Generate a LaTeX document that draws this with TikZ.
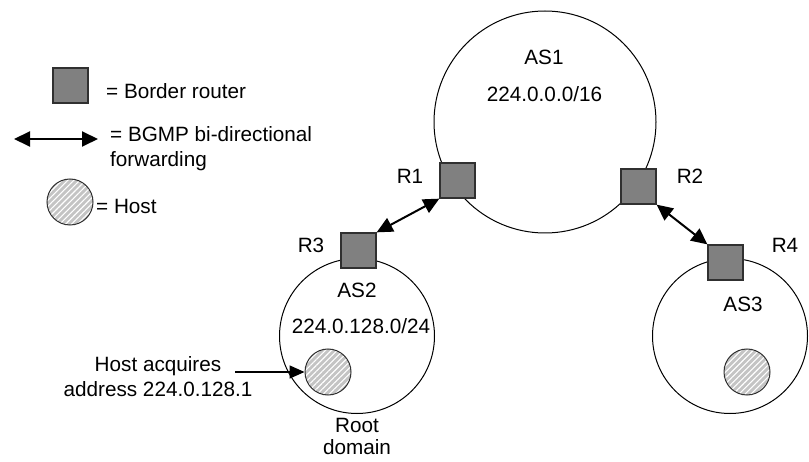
\documentclass[tikz,border=0pt]{standalone}
\usepackage{fontspec}
\setmainfont{Liberation Sans}
\usepackage{tikz}
\usetikzlibrary{positioning, arrows.meta, calc, patterns.meta}
\definecolor{routergray}{HTML}{808080}
\definecolor{hostgray}{HTML}{C4C4C4}
\definecolor{edgegray}{HTML}{303030}

\tikzset{
  ascircle/.style={draw, circle, line width=1pt, inner sep=0pt},
  router/.style={draw=edgegray, fill=routergray, line width=1.3pt,
                 minimum size=35pt, inner sep=0pt},
  host/.style={draw=edgegray, circle, line width=1pt, minimum size=46pt, inner sep=0pt,
               preaction={fill=hostgray},
               pattern={Lines[angle=45, distance=4.2pt, line width=1.1pt]}, pattern color=white},
  txt/.style={inner sep=0pt},
  bgmp/.style={{Triangle[length=16pt, width=15pt]}-{Triangle[length=16pt, width=15pt]},
               line width=2pt},
  pointer/.style={-{Triangle[length=15pt, width=13pt]}, line width=1.6pt}
}

\begin{document}
\begin{tikzpicture}[x=1pt, y=-1pt, font=\fontsize{20.7}{25}\selectfont]
    \useasboundingbox (0,0) rectangle (809,462);

    % legend
    \node[router] (keyrouter) at (70.5,85.5) {};
    \node[txt, anchor=west] (keyroutertext) at (106,91) {= Border router};
    \coordinate (keyleft) at (14,139);
    \coordinate (keyright) at (98,139);
    \draw[bgmp] (keyleft) -- (keyright);
    \node[txt, anchor=west, align=left] (keybgmptext) at (110,149)
      {= BGMP bi-directional\\forwarding};
    \node[host] (keyhost) at (70,202) {};
    \node[txt, anchor=west] (keyhosttext) at (96,206) {= Host};

    % domains
    \node[ascircle, minimum size=222pt] (as1) at (545,122) {};
    \node[ascircle, minimum size=155pt] (as2) at (357,336) {};
    \node[ascircle, minimum size=155pt] (as3) at (730,336) {};

    \node[txt] (as1name) at (544,57) {AS1};
    \node[txt] (as1prefix) at (544.5,94) {224.0.0.0/16};
    \node[txt] (as2name) at (357,290) {AS2};
    \node[txt] (as2prefix) at (361,326) {224.0.128.0/24};
    \node[txt] (as3name) at (743,304) {AS3};
    \node[txt, align=center, font=\fontsize{20.7}{22}\selectfont] (rootnote) at (357,436)
      {Root\\domain};

    % border routers
    \node[router] (r1) at (457.5,180.5) {};
    \node[router] (r2) at (638.5,186.5) {};
    \node[router] (r3) at (358.5,250.5) {};
    \node[router] (r4) at (725.5,262.5) {};
    \node[txt] (r1name) at (410,176) {R1};
    \node[txt] (r2name) at (690,176) {R2};
    \node[txt] (r3name) at (311,245) {R3};
    \node[txt] (r4name) at (785,245) {R4};

    % hosts
    \node[host] (host2) at (328,372) {};
    \node[host] (host3) at (747,372) {};

    % BGMP links
    \draw[bgmp] (r3.north east) -- (r1.south west);
    \draw[bgmp] (r2.south east) -- (r4.north west);

    % host note
    \node[txt, align=center] (hostnote) at (158,377) {Host acquires\\address 224.0.128.1};
    \coordinate (hosttail) at (235,372);
    \draw[pointer] (hosttail) -- (host2.west);
\end{tikzpicture}
\end{document}
